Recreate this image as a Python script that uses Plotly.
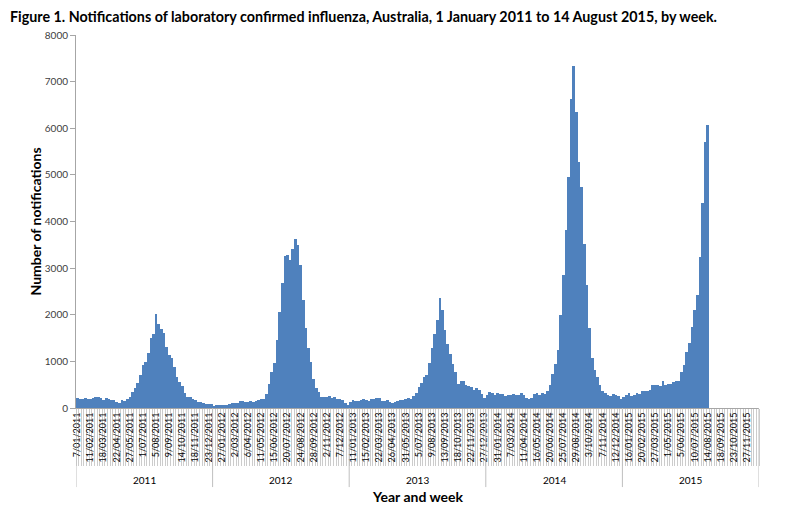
import plotly.graph_objects as go

# -----------------------------
# Weekly notifications, one list per year
# -----------------------------
notif_2011 = [216, 195, 195, 223, 195, 187, 223, 245, 238, 223,
              180, 216, 187, 180, 180, 122, 115, 173, 144, 187,
              238, 345, 432, 532, 712, 914, 978, 1187, 1496, 1597,
              2007, 1791, 1705, 1604, 1309, 1137, 1065, 871, 662, 568,
              482, 324, 245, 230, 201, 173, 130, 130, 101, 90,
              90, 85]
notif_2012 = [50, 57, 71, 71, 64, 64, 78, 100, 114, 107,
              157, 150, 128, 128, 150, 128, 157, 171, 185, 185,
              300, 514, 771, 964, 1464, 2057, 2686, 3264, 3285, 3185,
              3421, 3628, 3492, 3071, 2321, 1714, 1285, 985, 628, 428,
              336, 228, 236, 236, 257, 214, 228, 193, 185, 170,
              100, 70]
notif_2013 = [136, 164, 150, 150, 178, 193, 171, 150, 200, 200,
              214, 214, 157, 157, 171, 136, 107, 136, 150, 171,
              178, 186, 214, 200, 250, 321, 443, 535, 657, 700,
              964, 1285, 1585, 1892, 2357, 2092, 1664, 1378, 1164, 950,
              764, 521, 578, 578, 485, 471, 450, 393, 428, 393,
              300, 220]
notif_2014 = [286, 336, 321, 286, 321, 300, 300, 264, 286, 286,
              300, 286, 271, 321, 271, 214, 193, 214, 300, 321,
              271, 321, 307, 371, 500, 728, 942, 1250, 2000, 2842,
              3820, 4962, 6620, 7340, 6342, 5285, 4748, 3513, 2642, 1714,
              1071, 821, 664, 500, 371, 321, 271, 264, 300, 271,
              250, 200]
notif_2015 = [228, 286, 321, 264, 271, 321, 300, 357, 364, 357,
              393, 485, 500, 493, 478, 585, 500, 514, 521, 550,
              571, 585, 771, 914, 1200, 1400, 1742, 2107, 2428, 3228,
              4392, 5700, 6071]

years = ["2011", "2012", "2013", "2014", "2015"]
weeks_per_year = 52

tick_labels = [
    "7/01/2011", "11/02/2011", "18/03/2011", "22/04/2011", "27/05/2011", "1/07/2011",
    "5/08/2011", "9/09/2011", "14/10/2011", "18/11/2011", "23/12/2011",
    "27/01/2012", "2/03/2012", "6/04/2012", "11/05/2012", "15/06/2012", "20/07/2012",
    "24/08/2012", "28/09/2012", "2/11/2012", "7/12/2012",
    "11/01/2013", "15/02/2013", "22/03/2013", "26/04/2013", "31/05/2013", "5/07/2013",
    "9/08/2013", "13/09/2013", "18/10/2013", "22/11/2013", "27/12/2013",
    "31/01/2014", "7/03/2014", "11/04/2014", "16/05/2014", "20/06/2014", "25/07/2014",
    "29/08/2014", "3/10/2014", "7/11/2014", "12/12/2014",
    "16/01/2015", "20/02/2015", "27/03/2015", "1/05/2015", "5/06/2015", "10/07/2015",
    "14/08/2015", "18/09/2015", "23/10/2015", "27/11/2015",
]

values = notif_2011 + notif_2012 + notif_2013 + notif_2014 + notif_2015
n_weeks = weeks_per_year * len(years)
week_idx = list(range(len(values)))
tick_pos = list(range(0, n_weeks, 5))

AXIS_GREY = "#a6a6a6"
FONT = "Lato, 'Open Sans', sans-serif"

fig = go.Figure()
fig.add_trace(go.Bar(
    x=week_idx, y=values,
    marker=dict(color="#4f81bd", line=dict(width=0)),
    hoverinfo="y",
))

# year dividers and labels below the week labels
for i, yr in enumerate(years):
    fig.add_annotation(x=i * weeks_per_year + (weeks_per_year - 1) / 2, xref="x",
                       y=-0.193, yref="paper", text=yr, showarrow=False,
                       xanchor="center", yanchor="middle",
                       font=dict(size=10, color="#000000", family=FONT))
for i in range(len(years) + 1):
    fig.add_shape(type="line", xref="x", yref="paper",
                  x0=i * weeks_per_year - 0.5, x1=i * weeks_per_year - 0.5,
                  y0=0, y1=-0.212, line=dict(color="#bfbfbf", width=1))

fig.add_annotation(x=0.5, xref="paper", y=-0.236, yref="paper", text="<b>Year and week</b>",
                   showarrow=False, xanchor="center", yanchor="middle",
                   font=dict(size=14, color="#000000", family=FONT))
fig.add_annotation(x=-0.06, xref="paper", y=0.5, yref="paper", text="<b>Number of notifications</b>",
                   textangle=-90, showarrow=False, xanchor="center", yanchor="middle",
                   font=dict(size=14, color="#000000", family=FONT))

fig.update_layout(
    width=788, height=513,
    margin=dict(l=76, r=29, t=35, b=105),
    paper_bgcolor="white", plot_bgcolor="white",
    bargap=0, showlegend=False,
    title=dict(
        text="<b>Figure 1. Notifications of laboratory confirmed influenza, Australia, 1 January 2011 to 14 August 2015, by week.</b>",
        x=10 / 788, xref="container", xanchor="left",
        y=1 - 17 / 513, yref="container", yanchor="middle",
        font=dict(size=14.3, color="#000000", family=FONT),
    ),
    font=dict(family=FONT),
)

fig.update_xaxes(
    range=[-0.5, n_weeks - 0.5],
    tickmode="array", tickvals=tick_pos, ticktext=tick_labels,
    tickangle=-90, tickfont=dict(size=9, color="#000000", family=FONT),
    ticks="", showgrid=False, zeroline=False,
    showline=True, linecolor=AXIS_GREY, linewidth=1,
    minor=dict(tick0=-0.5, dtick=1, ticks="outside", ticklen=57,
               tickcolor="#cccccc", tickwidth=1, showgrid=False),
)
fig.update_yaxes(
    range=[0, 8000], dtick=1000,
    ticks="outside", ticklen=5, tickcolor=AXIS_GREY,
    tickfont=dict(size=10, color="#404040", family=FONT),
    showgrid=False, zeroline=False,
    showline=True, linecolor=AXIS_GREY, linewidth=1,
)

# the page's default body margin would shift the figure by 8px
fig.write_html("out.html", config={"displayModeBar": False},
               post_script="document.body.style.margin='0';")
